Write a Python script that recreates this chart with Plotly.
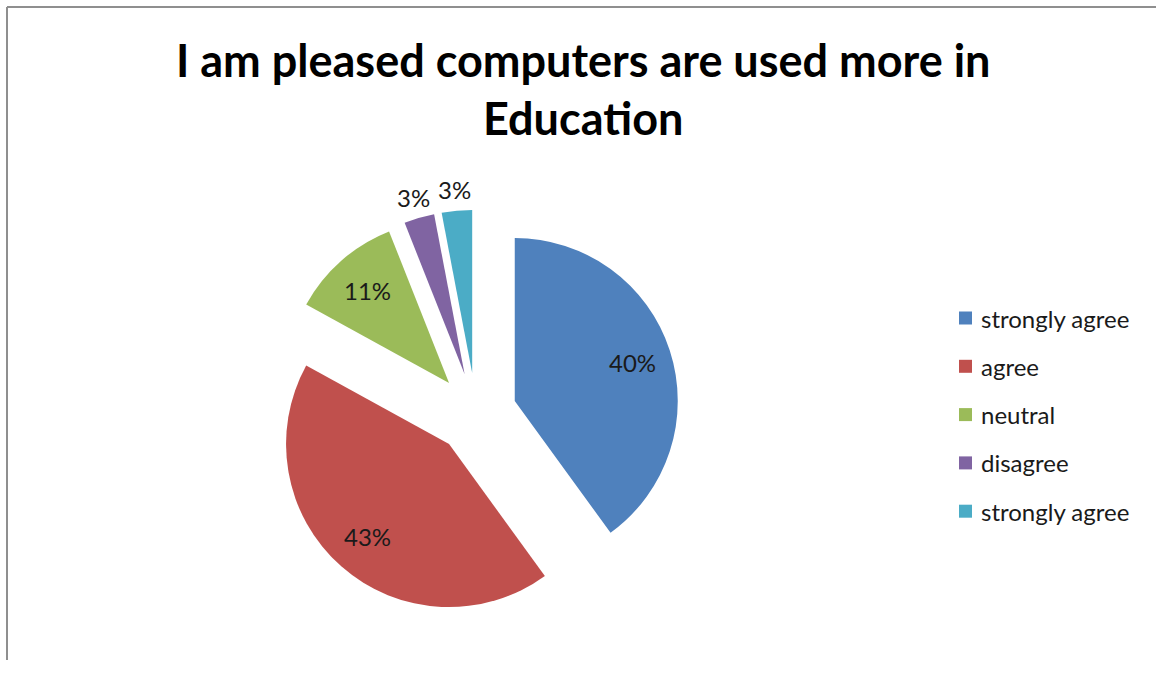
import math
import plotly.graph_objects as go

# Survey responses (percent of respondents)
categories = ["strongly agree", "agree", "neutral", "disagree", "strongly agree"]
values = [40, 43, 11, 3, 3]
colors = ["#4F81BD", "#C0504D", "#9BBB59", "#8064A2", "#4BACC6"]
title_lines = ["I am pleased computers are used more in", "Education"]

W, H = 1156, 660
FONT = "Lato"
PULL = 0.25

# Pie box in pixels (left, right, top, bottom)
box = (272.25, 679.75, 209.75, 617.25)
dom_x = [box[0] / W, box[1] / W]
dom_y = [1 - box[3] / H, 1 - box[2] / H]

fig = go.Figure()

# Pie slices keep distinct keys (two answers share the same wording)
fig.add_trace(go.Pie(
    labels=[f"{i}" for i in range(len(values))],
    values=values,
    text=categories,
    sort=False,
    direction="clockwise",
    rotation=0,
    pull=[PULL] * len(values),
    marker=dict(colors=colors, line=dict(width=0)),
    textinfo="none",
    hovertemplate="%{text}: %{percent:.0%}<extra></extra>",
    domain=dict(x=dom_x, y=dom_y),
    showlegend=False,
))

annotations = []
shapes = []

# Percentage labels placed along each slice's bisector
cx = (box[0] + box[1]) / 2
cy = (box[2] + box[3]) / 2
radius = min(box[1] - box[0], box[3] - box[2]) / 2 / (1 + PULL)
total = sum(values)
cum = 0
for v in values:
    share = v / total
    mid = 2 * math.pi * (cum + share / 2)
    cum += share
    dist = PULL + (0.76 if share >= 0.05 else 1.13)
    px = cx + dist * radius * math.sin(mid)
    py = cy - dist * radius * math.cos(mid)
    annotations.append(dict(
        text=f"{round(share * 100)}%", xref="paper", yref="paper",
        x=px / W, y=1 - py / H, xanchor="center", yanchor="middle",
        showarrow=False,
        font=dict(family=FONT, size=24, color="#1a1a1a"),
    ))

# Legend drawn as colour squares with labels
legend_x = 959
legend_y0 = 318
legend_step = 48.3
for i, (name, col) in enumerate(zip(categories, colors)):
    yc = legend_y0 + i * legend_step
    shapes.append(dict(
        type="rect", xref="paper", yref="paper",
        x0=legend_x / W, x1=(legend_x + 13) / W,
        y0=1 - (yc + 6.5) / H, y1=1 - (yc - 6.5) / H,
        fillcolor=col, line=dict(width=0),
    ))
    annotations.append(dict(
        text=name, xref="paper", yref="paper",
        x=(legend_x + 20) / W, y=1 - yc / H,
        xanchor="left", yanchor="middle", showarrow=False,
        font=dict(family=FONT, size=24, color="#1a1a1a"),
    ))

# Two-line chart title
for line, yc in zip(title_lines, [60, 118]):
    annotations.append(dict(
        text=f"<b>{line}</b>", xref="paper", yref="paper",
        x=583 / W, y=1 - yc / H, xanchor="center", yanchor="middle",
        showarrow=False,
        font=dict(family=FONT, size=45, color="#000000"),
    ))

# Chart-area border (top and left edges)
shapes.append(dict(type="line", xref="paper", yref="paper",
                   x0=7 / W, x1=1.0, y0=1 - 7 / H, y1=1 - 7 / H,
                   line=dict(color="#8f8f8f", width=2)))
shapes.append(dict(type="line", xref="paper", yref="paper",
                   x0=7 / W, x1=7 / W, y0=0, y1=1 - 7 / H,
                   line=dict(color="#8f8f8f", width=2)))

fig.update_layout(
    width=W, height=H,
    margin=dict(l=0, r=0, t=0, b=0),
    paper_bgcolor="white",
    plot_bgcolor="white",
    shapes=shapes,
    annotations=annotations,
)

fig.write_html("out.html", config={"responsive": False})
